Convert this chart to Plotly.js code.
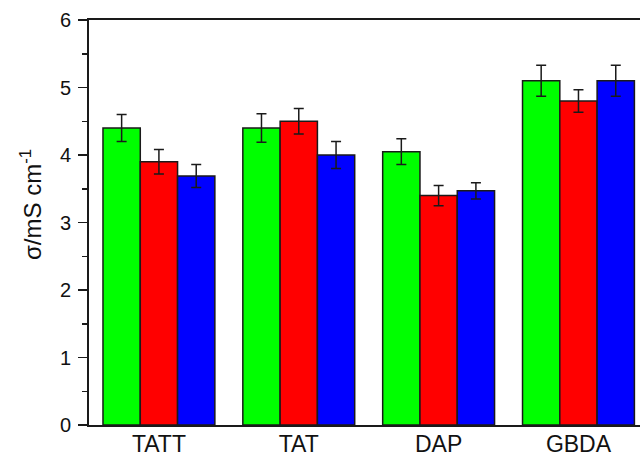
<!DOCTYPE html>
<html>
<head>
<meta charset="utf-8">
<script src="https://cdn.plot.ly/plotly-3.0.1.min.js"></script>
<style>
  html, body { margin: 0; padding: 0; background: #ffffff; }
  #chart { width: 640px; height: 456px; }
</style>
</head>
<body>
<div id="chart"></div>
<script>
// Sample categories along the x axis
var categories = ['TATT', 'TAT', 'DAP', 'GBDA'];

// Conductivity values (mS cm^-1) for the three series, with their error margins
var greenValues = [4.40, 4.40, 4.05, 5.10];
var greenErrors = [0.20, 0.21, 0.19, 0.23];
var redValues   = [3.90, 4.50, 3.40, 4.80];
var redErrors   = [0.18, 0.19, 0.15, 0.165];
var blueValues  = [3.69, 4.00, 3.47, 5.10];
var blueErrors  = [0.17, 0.20, 0.12, 0.23];

var yTicks = [0, 1, 2, 3, 4, 5, 6];

var edge = '#1a1a1a';

function series(values, errors, colour) {
  return {
    type: 'bar',
    x: categories,
    y: values,
    marker: { color: colour, line: { color: edge, width: 1.5 } },
    error_y: { type: 'data', array: errors, visible: true, color: edge, thickness: 1.5, width: 5 },
    showlegend: false,
    hoverinfo: 'x+y'
  };
}

var data = [
  series(greenValues, greenErrors, '#00ff00'),
  series(redValues, redErrors, '#ff0000'),
  series(blueValues, blueErrors, '#0000ff')
];

var layout = {
  width: 640,
  height: 456,
  margin: { l: 89, r: 0, t: 20, b: 31, pad: 0 },
  paper_bgcolor: '#ffffff',
  plot_bgcolor: '#ffffff',
  barmode: 'group',
  bargap: 0.2,
  bargroupgap: 0,
  font: { family: 'Liberation Sans, Arial, sans-serif', color: '#111111' },
  xaxis: {
    type: 'category',
    range: [-0.5, 3.44],
    showline: true,
    linecolor: edge,
    linewidth: 2,
    mirror: true,
    ticks: '',
    showgrid: false,
    zeroline: false,
    tickfont: { size: 23, color: '#111111' },
    ticklabelstandoff: -3
  },
  yaxis: {
    range: [0, 6],
    tickvals: yTicks,
    ticktext: yTicks.map(String),
    showline: true,
    linecolor: edge,
    linewidth: 2,
    ticks: 'outside',
    ticklen: 9,
    tickwidth: 1.5,
    tickcolor: edge,
    minor: { dtick: 0.5, ticks: 'outside', ticklen: 5, tickwidth: 1.5, tickcolor: edge, showgrid: false },
    showgrid: false,
    zeroline: false,
    tickfont: { size: 20, color: '#111111' },
    ticklabelstandoff: 3
  },
  annotations: [{
    text: 'σ/mS cm<sup>-1</sup>',
    textangle: -90,
    xref: 'paper', yref: 'paper',
    x: (31 - 89) / 551,
    y: (425 - 205) / 405,
    xanchor: 'center', yanchor: 'middle',
    showarrow: false,
    font: { size: 24, color: '#111111', family: 'Liberation Sans, Arial, sans-serif' }
  }]
};

Plotly.newPlot('chart', data, layout, { displayModeBar: false, staticPlot: true });
</script>
</body>
</html>
